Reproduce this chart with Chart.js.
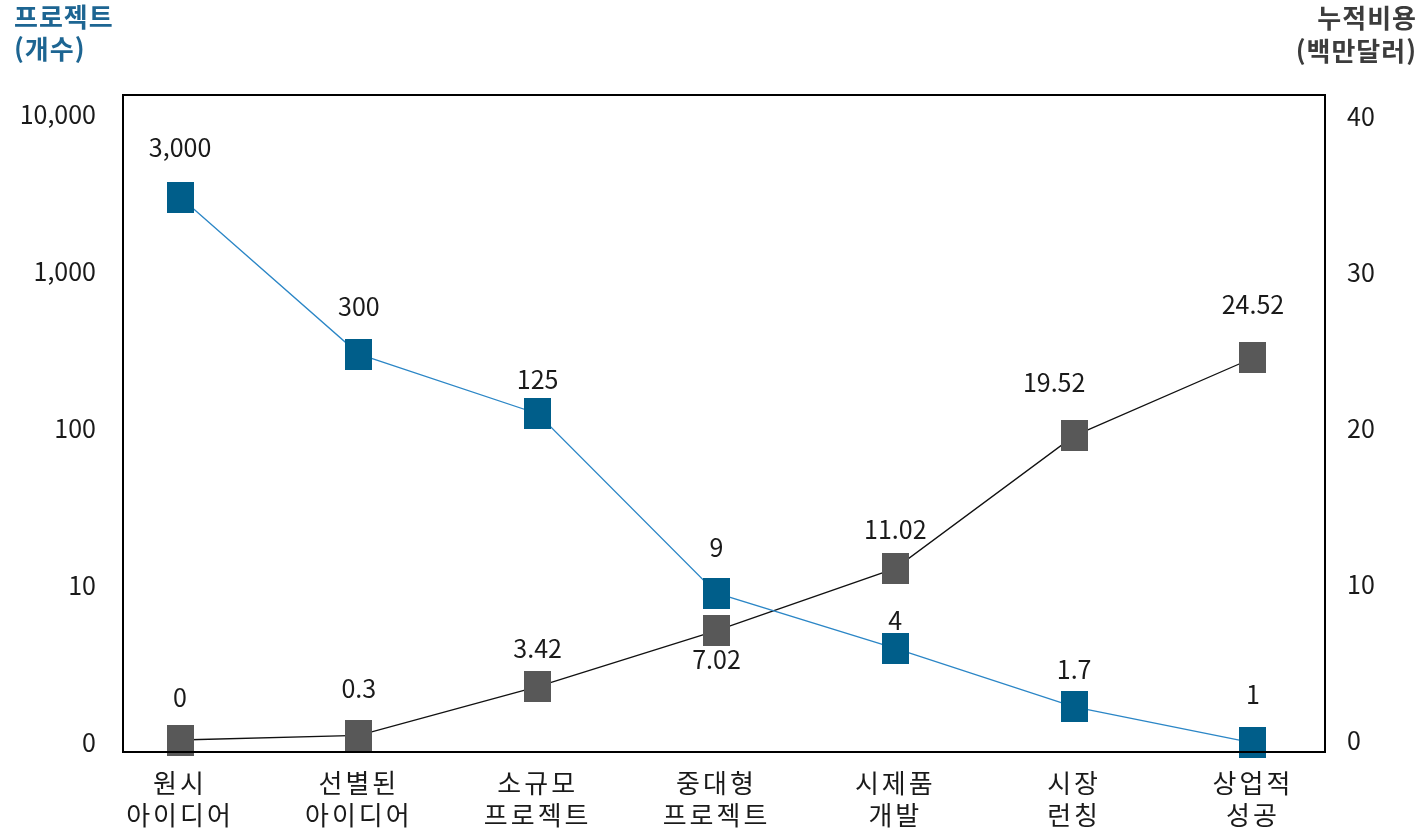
<!DOCTYPE html>
<html lang="ko">
<head>
<meta charset="utf-8">
<title>프로젝트 개수와 누적비용</title>
<script src="https://cdn.jsdelivr.net/npm/chart.js@4.4.1/dist/chart.umd.min.js"></script>
<style>
  html, body { margin: 0; padding: 0; background: #fff; }
  #wrap { width: 1422px; height: 831px; position: relative; }
</style>
</head>
<body>
<div id="wrap"><canvas id="chart"></canvas></div>
<script>
// ========== data ==========
const categories = [
  ["원시", "아이디어"],
  ["선별된", "아이디어"],
  ["소규모", "프로젝트"],
  ["중대형", "프로젝트"],
  ["시제품", "개발"],
  ["시장", "런칭"],
  ["상업적", "성공"],
];
const projectCounts = [3000, 300, 125, 9, 4, 1.7, 1];
const cumulativeCost = [0, 0.3, 3.42, 7.02, 11.02, 19.52, 24.52];

const leftTickValues = [1, 10, 100, 1000, 10000];
const leftTickLabels = ["0", "10", "100", "1,000", "10,000"];
const rightTickValues = [0, 10, 20, 30, 40];

const leftTitle = ["프로젝트", "(개수)"];
const rightTitle = ["누적비용", "(백만달러)"];

// ========== style ==========
const FONT = '"Noto Sans CJK KR", "Noto Sans", sans-serif';
const BLUE = "#005e8a";
const BLUE_LINE = "#2b86c6";
const GRAY = "#585858";
const TEXT = "#1a1a1a";

// value label offsets from the marker centre (px)
const LABEL_DY = [
  [-50, -48, -34, -46, -28, -37, -48],
  [-43, -47, -38, 29, -39, -53, -53],
];
const LABEL_DX = [
  [0, 0, 0, 0, 0, 0, 0],
  [0, 0, 0, 0, 0, -20, 0],
];

function squareMarker(color) {
  const c = document.createElement("canvas");
  c.width = 27;
  c.height = 31;
  const g = c.getContext("2d");
  g.fillStyle = color;
  g.fillRect(0, 0, 27, 31);
  return c;
}

const toPoints = (arr) => arr.map((v, i) => ({ x: i, y: v }));

// ========== plugins ==========
// wider hangul spacing on the category labels
const spacedXLabels = {
  id: "spacedXLabels",
  afterLayout(chart) {
    const s = chart.scales.x;
    if (s._spaced) return;
    const orig = s.drawLabels;
    s.drawLabels = function (area) {
      const ctx = this.ctx;
      ctx.save();
      ctx.letterSpacing = "3px";
      orig.call(this, area);
      ctx.restore();
    };
    s._spaced = true;
  },
};

const frameAndTitles = {
  id: "frameAndTitles",
  afterDraw(chart) {
    const { ctx, chartArea: a } = chart;
    ctx.save();
    ctx.strokeStyle = "#000";
    ctx.lineWidth = 2;
    ctx.strokeRect(a.left, a.top, a.right - a.left, a.bottom - a.top);

    ctx.font = "bold 26px " + FONT;
    ctx.letterSpacing = "1px";
    ctx.textBaseline = "middle";
    ctx.fillStyle = "#1d6592";
    ctx.textAlign = "left";
    leftTitle.forEach((t, i) => ctx.fillText(t, 14, 17 + i * 32));
    ctx.fillStyle = "#3c3c3c";
    ctx.textAlign = "right";
    rightTitle.forEach((t, i) => ctx.fillText(t, 1417, 18 + i * 33));
    ctx.restore();
  },
};

const valueLabels = {
  id: "valueLabels",
  afterDatasetsDraw(chart) {
    const { ctx } = chart;
    ctx.save();
    ctx.font = "25px " + FONT;
    ctx.fillStyle = TEXT;
    ctx.textAlign = "center";
    ctx.textBaseline = "middle";
    chart.data.datasets.forEach((ds, di) => {
      const meta = chart.getDatasetMeta(di);
      meta.data.forEach((pt, j) => {
        const v = ds.data[j].y;
        const txt = di === 0 ? v.toLocaleString("en-US") : String(v);
        ctx.fillText(txt, pt.x + LABEL_DX[di][j], pt.y + LABEL_DY[di][j]);
      });
    });
    ctx.restore();
  },
};

// ========== chart ==========
const xs = categories.map((_, i) => i);

new Chart(document.getElementById("chart"), {
  type: "line",
  data: {
    datasets: [
      {
        label: "프로젝트(개수)",
        data: toPoints(projectCounts),
        yAxisID: "yLeft",
        borderColor: BLUE_LINE,
        borderWidth: 1.3,
        pointStyle: squareMarker(BLUE),
        clip: false,
      },
      {
        label: "누적비용(백만달러)",
        data: toPoints(cumulativeCost),
        yAxisID: "yRight",
        borderColor: "#111",
        borderWidth: 1.3,
        pointStyle: squareMarker(GRAY),
        clip: false,
      },
    ],
  },
  options: {
    responsive: true,
    maintainAspectRatio: false,
    animation: false,
    layout: { padding: { top: 95, left: 0, right: 0, bottom: 0 } },
    plugins: {
      legend: { display: false },
      tooltip: { enabled: false },
    },
    scales: {
      x: {
        type: "linear",
        min: -0.319,
        max: 6.403,
        grid: { display: false, drawTicks: false },
        border: { display: false },
        afterBuildTicks: (s) => { s.ticks = xs.map((v) => ({ value: v })); },
        afterFit: (s) => { s.height = 79; },
        ticks: {
          padding: 16,
          maxRotation: 0,
          autoSkip: false,
          color: TEXT,
          font: { family: FONT, size: 26, lineHeight: 1.2 },
          callback: (v, i) => categories[i],
        },
      },
      yLeft: {
        type: "logarithmic",
        position: "left",
        min: 0.876,
        max: 13400,
        grid: { display: false, drawTicks: false },
        border: { display: false },
        afterBuildTicks: (s) => { s.ticks = leftTickValues.map((v) => ({ value: v })); },
        afterFit: (s) => { s.width = 123; },
        ticks: {
          padding: 27,
          color: TEXT,
          font: { family: FONT, size: 25 },
          callback: (v, i) => leftTickLabels[i],
        },
      },
      yRight: {
        type: "linear",
        position: "right",
        min: -0.77,
        max: 41.4,
        grid: { display: false, drawTicks: false },
        border: { display: false },
        afterBuildTicks: (s) => { s.ticks = rightTickValues.map((v) => ({ value: v })); },
        afterFit: (s) => { s.width = 97; },
        ticks: {
          padding: 22,
          color: TEXT,
          font: { family: FONT, size: 25 },
          callback: (v) => String(v),
        },
      },
    },
  },
  plugins: [spacedXLabels, frameAndTitles, valueLabels],
});
</script>
</body>
</html>
